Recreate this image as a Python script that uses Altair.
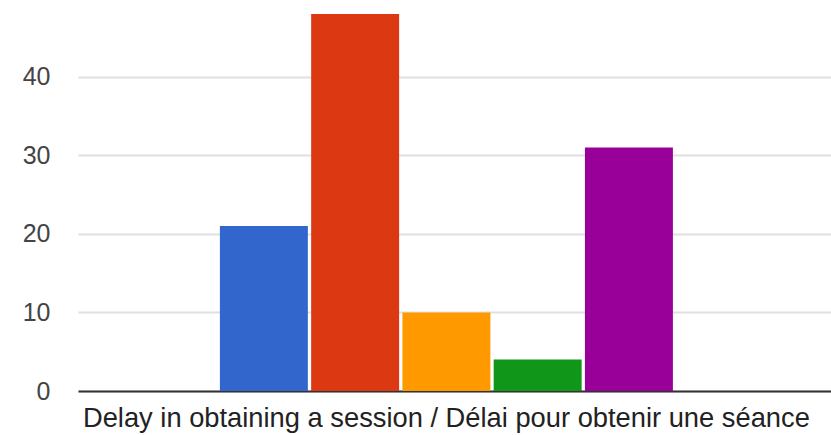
import altair as alt
import pandas as pd

category = "Delay in obtaining a session / Délai pour obtenir une séance"
series = ["s1", "s2", "s3", "s4", "s5"]
values = [21, 48, 10, 4, 31]
colors = ["#3366cc", "#dc3912", "#ff9900", "#109618", "#990099"]
y_ticks = [0, 10, 20, 30, 40]

df = pd.DataFrame({"cat": [category] * 5, "series": series, "value": values})

bars = alt.Chart(df).mark_bar(clip=True).encode(
    x=alt.X("cat:N", title=None,
            scale=alt.Scale(paddingInner=0, paddingOuter=0.3311, align=0.473),
            axis=alt.Axis(labelAngle=0, labelFontSize=27.3, labelFont="Liberation Sans",
                          labelColor="#222222", ticks=False, domain=True,
                          domainColor="#333333", domainWidth=2, labelPadding=13,
                          labelLimit=900, grid=False)),
    xOffset=alt.XOffset("series:N", sort=series,
                        scale=alt.Scale(paddingInner=0.036, paddingOuter=0)),
    y=alt.Y("value:Q", title=None,
            scale=alt.Scale(domain=[0, 48], nice=False),
            axis=alt.Axis(values=y_ticks, labelFontSize=25, labelFont="Liberation Sans",
                          labelColor="#444444", ticks=False, domain=False,
                          labelPadding=28, gridColor="#e0e0e0", gridWidth=2)),
    color=alt.Color("series:N", sort=series,
                    scale=alt.Scale(domain=series, range=colors), legend=None),
)

chart = bars.properties(
    width=753, height=377,
    padding={"left": 78, "top": 14, "right": 0, "bottom": 44},
    autosize=alt.AutoSizeParams(type="none"),
).configure_view(stroke=None)

chart.save("out.html", embed_options={"renderer": "svg", "actions": False})
